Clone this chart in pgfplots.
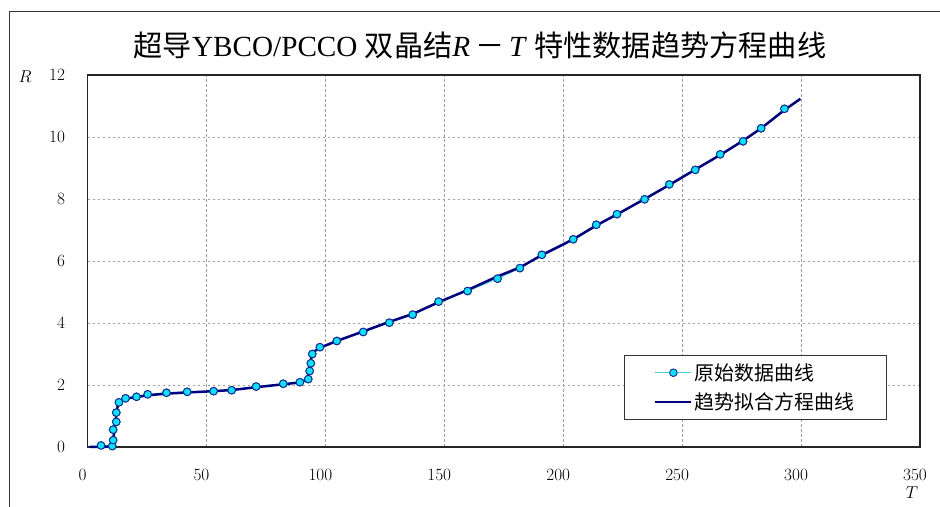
\documentclass[border=0pt]{standalone}
\usepackage{pgfplots}
\pgfplotsset{compat=1.18}
\usepackage{fontspec}
\setmainfont{Liberation Serif}
\newfontfamily\cjk{Noto Sans CJK SC}

\definecolor{fitnavy}{RGB}{0,0,128}
\definecolor{rawline}{RGB}{70,205,215}
\definecolor{rawfill}{RGB}{0,230,255}
\definecolor{rawedge}{RGB}{20,40,150}

\pgfplotsset{
  rawimg/.style={legend image code/.code={
    \draw[##1, mark repeat=2, mark phase=2] plot coordinates {(0bp,0bp) (18bp,0bp) (36bp,0bp)};}},
  fitimg/.style={legend image code/.code={
    \draw[##1] (0bp,0bp) -- (36bp,0bp);}},
}

% measured R(T) data
\pgfplotstableread{
T R
5.7 0.05
10.4 0.03
10.8 0.22
10.8 0.56
12.1 0.81
12.1 1.11
13.2 1.44
16.0 1.57
20.6 1.62
25.3 1.70
33.2 1.75
41.9 1.78
53.0 1.80
60.6 1.83
70.9 1.95
82.3 2.04
89.3 2.09
92.8 2.19
93.4 2.45
93.9 2.70
94.5 3.00
97.7 3.22
104.8 3.42
115.9 3.71
126.9 4.01
136.7 4.27
147.6 4.69
159.8 5.03
172.4 5.43
181.8 5.77
191.0 6.20
204.2 6.70
213.9 7.17
222.6 7.51
234.2 7.99
244.6 8.47
255.5 8.94
266.0 9.44
275.6 9.86
283.2 10.28
293.0 10.91
}\rawdata

% trend equation curve
\pgfplotstableread{
T R
1 0.00
9 0.01
10.5 0.05
11 0.35
11.8 0.85
12.5 1.25
13.3 1.47
14.5 1.52
17 1.57
22 1.63
27 1.68
33 1.72
42 1.76
53 1.80
61 1.84
71 1.93
82 2.02
89 2.08
92.5 2.18
93.3 2.50
93.9 2.80
94.6 3.05
97.7 3.20
104.8 3.42
116 3.73
127 4.04
137 4.30
147.6 4.67
160 5.07
172 5.49
182 5.80
191 6.19
204 6.69
214 7.15
223 7.52
234 7.99
245 8.47
255.5 8.95
266 9.42
275.6 9.88
283.2 10.28
293 10.87
299.7 11.23
}\fitdata

\begin{document}
\begin{tikzpicture}[x=1bp,y=1bp]
\useasboundingbox (0,0) rectangle (940,507);
% chart frame
\draw[line width=1.3bp, black!80] (9.5,-20) -- (9.5,495.5) -- (960,495.5);
% title
\node[font=\fontsize{29.3}{32}\selectfont, inner sep=0pt] at (480,462)
  {{\cjk 超导}YBCO/PCCO {\cjk 双晶结}\textit{R}\,{\cjk －}\,\textit{T} {\cjk 特性数据趋势方程曲线}};
\begin{axis}[
  at={(87.5bp,60bp)}, anchor=south west,
  scale only axis, width=832.5bp, height=372bp,
  xmin=0, xmax=350, ymin=0, ymax=12,
  xtick={0,50,...,350}, ytick={0,2,...,12},
  grid=major,
  major grid style={dashed, dash pattern=on 2.5bp off 2.5bp, gray!75, line width=0.7bp},
  axis line style={line width=1.3bp, black!85},
  tick style={draw=none},
  ticklabel style={font=\fontsize{19}{22}\selectfont},
  xticklabel style={xshift=-5bp, yshift=-19bp},
  yticklabel style={xshift=-19bp},
  legend style={at={(0.644,0.247)}, anchor=north west,
    draw=black!80, line width=1bp,
    font=\cjk\fontsize{20}{23}\selectfont,
    inner xsep=30bp, inner ysep=6bp,
    row sep=7bp},
  legend cell align=left,
  clip=false,
]
\addplot[color=rawline, line width=1bp,
  mark=*, mark size=3.8bp,
  mark options={fill=rawfill, draw=rawedge, line width=0.9bp},
  rawimg] table[x=T, y=R] {\rawdata};
\addlegendentry{原始数据曲线}
\addplot[color=fitnavy, line width=2.5bp, fitimg] table[x=T, y=R] {\fitdata};
\addlegendentry{趋势拟合方程曲线}
% redraw markers above the trend curve
\addplot[draw=none, forget plot,
  mark=*, mark size=3.8bp,
  mark options={fill=rawfill, draw=rawedge, line width=0.9bp}] table[x=T, y=R] {\rawdata};
\end{axis}
\node[font=\fontsize{19}{21}\selectfont] at (25,430) {$R$};
\node[font=\fontsize{19}{21}\selectfont] at (912,14) {$T$};
\end{tikzpicture}
\end{document}
